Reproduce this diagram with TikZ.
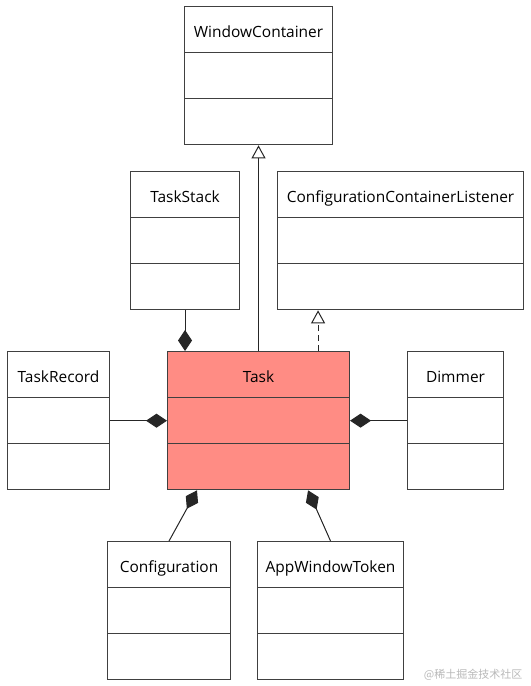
\documentclass[tikz,border=0pt]{standalone}
\usepackage{fontspec}
\setmainfont{Open Sans}
\newfontfamily\cjkfont{Noto Sans CJK SC}
\usetikzlibrary{shapes.multipart,arrows.meta,calc}

\definecolor{taskred}{RGB}{255,140,132}
\definecolor{boxline}{RGB}{64,64,64}
\newcommand{\ctitle}[1]{\rule[-11.3pt]{0pt}{33.8pt}#1}
\newcommand{\cpart}{\rule{0pt}{33.75pt}}

\tikzset{
    umlclass/.style={draw=boxline, line width=0.8pt, rectangle split, rectangle split parts=3,
        inner xsep=0pt, inner ysep=0pt, anchor=north west, font=\fontsize{11.6}{14}\selectfont},
    composite/.style={-{Diamond[length=15.75pt,width=10.5pt]}, line width=0.75pt, draw=black!85},
    inherit/.style={-{Triangle[open,length=9.75pt,width=10.5pt,fill=white]}, line width=0.75pt, draw=black!85},
}

\begin{document}
\begin{tikzpicture}[x=0.75pt,y=-0.75pt]
        \useasboundingbox (0,0) rectangle (531,686);
        % classes
        \node[umlclass, minimum width=148*0.75pt] (windowcontainer) at (184,6) {\ctitle{WindowContainer}\nodepart{second}\cpart\nodepart{third}\cpart};
        \node[umlclass, minimum width=109*0.75pt] (taskstack) at (130,171) {\ctitle{TaskStack}\nodepart{second}\cpart\nodepart{third}\cpart};
        \node[umlclass, minimum width=246*0.75pt] (listener) at (277,171) {\ctitle{ConfigurationContainerListener}\nodepart{second}\cpart\nodepart{third}\cpart};
        \node[umlclass, minimum width=102*0.75pt] (taskrecord) at (7,351) {\ctitle{TaskRecord}\nodepart{second}\cpart\nodepart{third}\cpart};
        \node[umlclass, minimum width=182*0.75pt, fill=taskred] (task) at (167,351) {\ctitle{Task}\nodepart{second}\cpart\nodepart{third}\cpart};
        \node[umlclass, minimum width=96*0.75pt] (dimmer) at (407,351) {\ctitle{Dimmer}\nodepart{second}\cpart\nodepart{third}\cpart};
        \node[umlclass, minimum width=123*0.75pt] (configuration) at (107,541) {\ctitle{Configuration}\nodepart{second}\cpart\nodepart{third}\cpart};
        \node[umlclass, minimum width=146*0.75pt] (appwindowtoken) at (257,541) {\ctitle{AppWindowToken}\nodepart{second}\cpart\nodepart{third}\cpart};
        % relations
        \draw[inherit] (task.north) -- (windowcontainer.south);
        \coordinate (realize) at ($(task.north east)+(-32,0)$);
        \draw[inherit, dash pattern=on 4.5pt off 3pt] (realize) -- (realize |- listener.south);
        \draw[composite] (taskstack.south) -- (taskstack.south |- task.north);
        \draw[composite] (taskrecord.east) -- (task.west);
        \draw[composite] (dimmer.west) -- (task.east);
        \draw[composite] (configuration.north) -- ($(task.south west)+(30,0)$);
        \draw[composite] (appwindowtoken.north) -- ($(task.south east)+(-42,0)$);
        \node[anchor=east, text=gray!55, font=\cjkfont\fontsize{8.25}{10}\selectfont] (watermark) at (527,675) {@稀土掘金技术社区};
    \end{tikzpicture}
\end{document}
